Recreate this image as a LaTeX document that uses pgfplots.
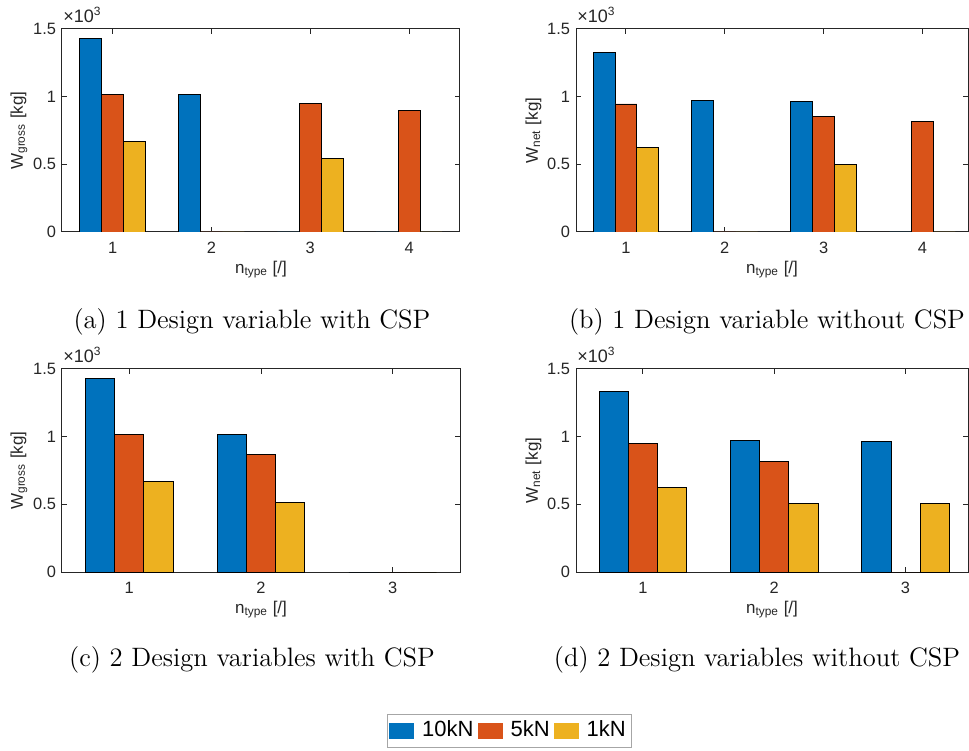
\documentclass[border=0pt]{standalone}
\usepackage{fontspec}
\usepackage{pgfplots}
\pgfplotsset{compat=1.18}
\newfontfamily\arial{Liberation Sans}
\definecolor{c1}{RGB}{0,114,189}
\definecolor{c2}{RGB}{217,83,25}
\definecolor{c3}{RGB}{237,177,32}
\definecolor{axgray}{RGB}{38,38,38}
\newcommand{\tickfont}{\arial\fontsize{8.2}{10}\selectfont}
\newcommand{\multfont}{\arial\fontsize{9}{10}\selectfont}
\pgfplotsset{
  sub/.style={
    scale only axis, height=101.5pt, clip mode=individual,
    ymin=0, ymax=1500, ytick={0,500,1000,1500}, yticklabels={0,0.5,1,1.5},
    axis line style={axgray, line width=0.5pt},
    every tick/.style={axgray, line width=0.5pt},
    tick align=inside, major tick length=2.5pt,
    xtick pos=both, ytick pos=both,
    every tick label/.append style={font=\tickfont, text=axgray},
    xticklabel style={yshift=-1.5pt},
    yticklabel style={xshift=0.5pt},
    label style={font=\arial\fontsize{8.5}{10}\selectfont, text=axgray},
    ylabel shift=-4pt, xlabel shift=-3pt,
    /pgf/number format/assume math mode=true,
    xlabel={n\textsubscript{type} [/]},
    legend image code/.code={\fill[##1,draw=none] (0pt,-4pt) rectangle (12.5pt,4pt);},
  },
  b1/.style={ybar, bar width=0.222, bar shift=-0.222, fill=c1, draw=black, line width=0.45pt},
  b2/.style={ybar, bar width=0.222, bar shift=0, fill=c2, draw=black, line width=0.45pt},
  b3/.style={ybar, bar width=0.222, bar shift=0.222, fill=c3, draw=black, line width=0.45pt},
}
\newcommand{\scalelab}{\node[anchor=base west, font=\multfont, text=axgray, inner sep=0pt, yshift=3pt, xshift=0.5pt] at (rel axis cs:0,1) {×10\textsuperscript{3}};}
\newcommand{\capfont}{\fontsize{13.3}{16}\selectfont}
\begin{document}
\begin{tikzpicture}
\useasboundingbox (0,0) rectangle (484.5pt,375pt);
% (a)
\begin{axis}[sub, at={(31pt,259pt)}, anchor=south west, width=199pt,
  xmin=0.487, xmax=4.515, xtick={1,2,3,4},
  ylabel={W\textsubscript{gross} [kg]}]
\addplot[b1] coordinates {(1,1431) (2,1015) (3,0) (4,0)};
\addplot[b2] coordinates {(1,1015) (2,0) (3,951) (4,897)};
\addplot[b3] coordinates {(1,670) (2,0) (3,544) (4,0)};
\scalelab
\end{axis}
% (b)
\begin{axis}[sub, at={(288pt,259pt)}, anchor=south west, width=196pt,
  xmin=0.495, xmax=4.46, xtick={1,2,3,4},
  ylabel={W\textsubscript{net} [kg]}]
\addplot[b1] coordinates {(1,1330) (2,975) (3,961) (4,0)};
\addplot[b2] coordinates {(1,946) (2,0) (3,855) (4,818)};
\addplot[b3] coordinates {(1,626) (2,0) (3,502) (4,0)};
\scalelab
\end{axis}
% (c)
\begin{axis}[sub, at={(31pt,89pt)}, anchor=south west, width=199pt,
  xmin=0.49, xmax=3.51, xtick={1,2,3},
  ylabel={W\textsubscript{gross} [kg]},
  legend style={at={(1.1244,-0.7808)}, anchor=center, legend columns=3,
    draw=gray!70, font=\arial\fontsize{11}{12}\selectfont,
    inner xsep=1pt, inner ysep=1.5pt,
    /tikz/every odd column/.append style={column sep=2pt}}]
\addplot[b1] coordinates {(1,1431) (2,1016) (3,0)};
\addplot[b2] coordinates {(1,1016) (2,871) (3,0)};
\addplot[b3] coordinates {(1,671) (2,511) (3,0)};
\legend{10kN,5kN,1kN}
\scalelab
\end{axis}
% (d)
\begin{axis}[sub, at={(288pt,89pt)}, anchor=south west, width=196pt,
  xmin=0.49, xmax=3.476, xtick={1,2,3},
  ylabel={W\textsubscript{net} [kg]}]
\addplot[b1] coordinates {(1,1332) (2,972) (3,965)};
\addplot[b2] coordinates {(1,947) (2,819) (3,0)};
\addplot[b3] coordinates {(1,627) (2,503) (3,503)};
\scalelab
\end{axis}
\node[font=\capfont] at (126pt,214pt) {(a) 1 Design variable with CSP};
\node[font=\capfont] at (383.5pt,214pt) {(b) 1 Design variable without CSP};
\node[font=\capfont] at (126pt,45pt) {(c) 2 Design variables with CSP};
\node[font=\capfont] at (378.5pt,45pt) {(d) 2 Design variables without CSP};
\end{tikzpicture}
\end{document}
